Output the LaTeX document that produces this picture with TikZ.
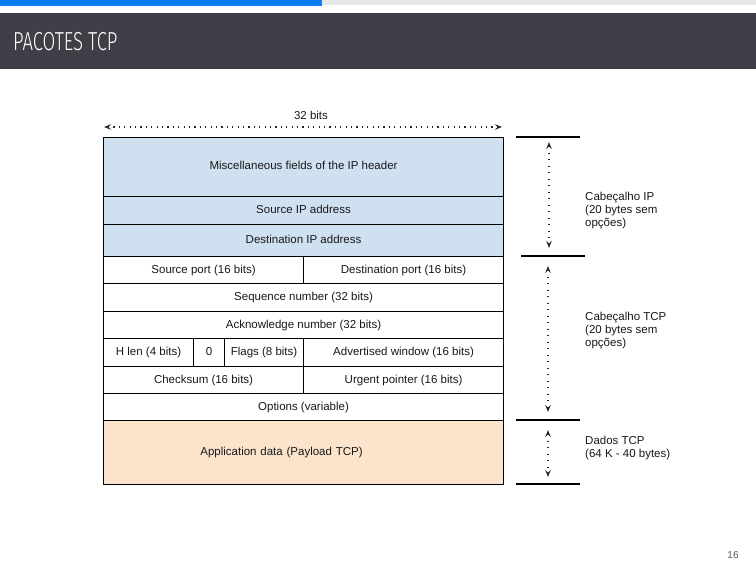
\documentclass[tikz,border=0pt]{standalone}
\usepackage{fontspec}
\setmainfont{Liberation Sans}
\newfontfamily\titlefont[FakeStretch=0.71]{Fira Sans Light}
\usetikzlibrary{arrows.meta}
\definecolor{barblue}{HTML}{0A7CF5}
\definecolor{bargray}{HTML}{E6E6E6}
\definecolor{banddark}{HTML}{3E3F47}
\definecolor{ipblue}{HTML}{CFE0F1}
\definecolor{payload}{HTML}{FBE3CC}
\definecolor{pagegray}{HTML}{555555}
\tikzset{
  cell/.style={draw=black, line width=1.1pt, anchor=north west, inner sep=0pt,
    text height=8.3pt, text depth=2.4pt,
    font=\fontsize{11.5}{13}\selectfont, text=black!90},
  dimarrow/.style={dash pattern=on 1.2pt off 4.2pt, line width=1.1pt, black!85,
    {Stealth[length=7pt,width=5.5pt,inset=2.5pt]}-{Stealth[length=7pt,width=5.5pt,inset=2.5pt]}},
  vdimarrow/.style={dimarrow, dash pattern=on 1.2pt off 5.3pt},
  tick/.style={line width=1.1pt, black},
  sidelabel/.style={anchor=north west, align=left, inner sep=0pt,
    font=\fontsize{11.5}{13}\selectfont, text=black!90}
}
\begin{document}
\begin{tikzpicture}[x=1pt,y=-1pt]
\useasboundingbox (0,0) rectangle (756,567);
\fill[white] (0,0) rectangle (756,567);
% top progress bar and title band
\fill[bargray] (0,0) rectangle (756,5);
\fill[barblue] (0,0) rectangle (322,6);
\fill[banddark] (0,13) rectangle (756,69);
\node[anchor=west, inner sep=0pt, text=white, font=\titlefont\fontsize{26}{28}\selectfont] (title) at (13,42) {PACOTES TCP};

% width dimension
\coordinate (wl) at (104,127);
\coordinate (wr) at (502,127);
\draw[dimarrow] (wl) -- (wr);
\node[font=\fontsize{11.5}{13}\selectfont, text=black!90] (wlabel) at (311,115) {32 bits};

% IP header
\node[cell, fill=ipblue, minimum width=400pt, minimum height=59pt] (misc) at (103,137) {Miscellaneous fields of the IP header};
\node[cell, fill=ipblue, minimum width=400pt, minimum height=28pt] (srcip) at (103,196) {Source IP address};
\node[cell, fill=ipblue, minimum width=400pt, minimum height=32pt] (dstip) at (103,224) {Destination IP address};

% TCP header
\node[cell, minimum width=200pt, minimum height=27pt] (sport) at (103,256) {Source port (16 bits)};
\node[cell, minimum width=200pt, minimum height=27pt] (dport) at (303,256) {Destination port (16 bits)};
\node[cell, minimum width=400pt, minimum height=28pt] (seq) at (103,283) {Sequence number (32 bits)};
\node[cell, minimum width=400pt, minimum height=27pt] (ack) at (103,311) {Acknowledge number (32 bits)};
\node[cell, minimum width=90pt, minimum height=28pt] (hlen) at (103,338) {H len (4 bits)};
\node[cell, minimum width=31pt, minimum height=28pt] (zero) at (193,338) {0};
\node[cell, minimum width=79pt, minimum height=28pt] (flags) at (224,338) {Flags (8 bits)};
\node[cell, minimum width=200pt, minimum height=28pt] (awin) at (303,338) {Advertised window (16 bits)};
\node[cell, minimum width=200pt, minimum height=27pt] (csum) at (103,366) {Checksum (16 bits)};
\node[cell, minimum width=200pt, minimum height=27pt] (urg) at (303,366) {Urgent pointer (16 bits)};
\node[cell, minimum width=400pt, minimum height=27pt] (opts) at (103,393) {Options (variable)};

% payload
\node[cell, fill=payload, minimum width=400pt, minimum height=64pt, text width=380pt, align=center] (data) at (103,420) {\hspace*{-44pt}Application data (Payload TCP)};

% right-hand extents
\draw[tick] (516,137) -- (580,137);
\draw[tick] (521,256) -- (585,256);
\draw[tick] (516,420) -- (580,420);
\draw[tick] (516,484) -- (580,484);

\coordinate (ipt) at (549,142);
\coordinate (ipb) at (549,248);
\coordinate (tcpt) at (548,266);
\coordinate (tcpb) at (548,412);
\coordinate (dat) at (548,430);
\coordinate (dab) at (548,477);
\draw[vdimarrow] (ipt) -- (ipb);
\draw[vdimarrow] (tcpt) -- (tcpb);
\draw[vdimarrow] (dat) -- (dab);

\node[sidelabel] (iplabel) at (585,192) {Cabeçalho IP\\(20 bytes sem\\opções)};
\node[sidelabel] (tcplabel) at (585,312) {Cabeçalho TCP\\(20 bytes sem\\opções)};
\node[sidelabel] (datalabel) at (585,436) {Dados TCP\\(64 K - 40 bytes)};

% page number
\node[font=\fontsize{10}{11}\selectfont, text=pagegray] (page) at (733,555) {16};
\end{tikzpicture}
\end{document}
